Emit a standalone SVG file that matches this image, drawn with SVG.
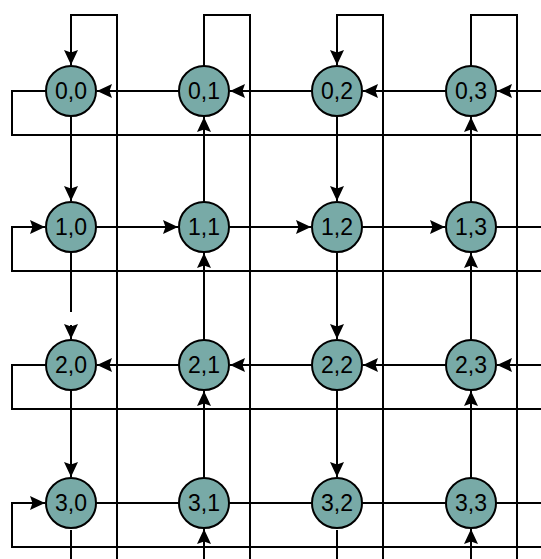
<svg xmlns="http://www.w3.org/2000/svg" width="541" height="559" viewBox="0 0 541 559">
  <style>
    .wire { fill: none; stroke: #000; stroke-width: 2; }
    .arr { marker-end: url(#head); }
    .node circle { fill: #78aaa7; stroke: #000; stroke-width: 2; }
    .node text { font-family: "Liberation Sans", Arial, sans-serif; font-size: 23px; fill: #000; text-anchor: middle; }
  </style>
  <defs>
    <marker id="head" markerUnits="userSpaceOnUse" markerWidth="15" markerHeight="14" refX="15" refY="7" orient="auto" viewBox="0 0 15 14">
      <path d="M0,0 L15,7 L0,14 L2.5,7 Z" fill="#000"/>
    </marker>
  </defs>
  <rect width="541" height="559" fill="#fff"/>

  <g id="connectors">
    <!-- wrap-around loops over the top of each column -->
    <path class="wire arr" d="M117,559 L117,15 L71,15 L71,65"/>
    <path class="wire" d="M204,66 L204,15 L250,15 L250,559"/>
    <path class="wire arr" d="M383,559 L383,15 L337,15 L337,65"/>
    <path class="wire" d="M471,66 L471,15 L517,15 L517,559"/>

    <!-- wrap-around loops on the left of each row -->
    <path class="wire" d="M46,91 L12,91 L12,135 L541,135"/>
    <path class="wire arr" d="M541,271 L12,271 L12,227 L45,227"/>
    <path class="wire" d="M46,365 L12,365 L12,409 L541,409"/>
    <path class="wire arr" d="M541,547 L12,547 L12,503 L45,503"/>

    <!-- row 0: right to left -->
    <path class="wire arr" d="M541,91 L497,91"/>
    <path class="wire arr" d="M446,91 L363,91"/>
    <path class="wire arr" d="M312,91 L230,91"/>
    <path class="wire arr" d="M179,91 L97,91"/>

    <!-- row 1: left to right -->
    <path class="wire arr" d="M96,227 L178,227"/>
    <path class="wire arr" d="M229,227 L311,227"/>
    <path class="wire arr" d="M362,227 L445,227"/>
    <path class="wire" d="M496,227 L541,227"/>

    <!-- row 2: right to left -->
    <path class="wire arr" d="M541,365 L497,365"/>
    <path class="wire arr" d="M446,365 L363,365"/>
    <path class="wire arr" d="M312,365 L230,365"/>
    <path class="wire arr" d="M179,365 L97,365"/>

    <!-- row 3: plain links -->
    <path class="wire" d="M96,503 L179,503"/>
    <path class="wire" d="M229,503 L312,503"/>
    <path class="wire" d="M362,503 L446,503"/>
    <path class="wire" d="M496,503 L541,503"/>

    <!-- column 0: downward -->
    <path class="wire arr" d="M71,116 L71,201"/>
    <path class="wire" d="M71,252 L71,312"/>
    <path class="wire arr" d="M71,325 L71,339"/>
    <path class="wire arr" d="M71,390 L71,477"/>
    <path class="wire" d="M71,530 L71,559"/>

    <!-- column 1: upward -->
    <path class="wire arr" d="M204,202 L204,117"/>
    <path class="wire arr" d="M204,340 L204,253"/>
    <path class="wire arr" d="M204,478 L204,391"/>
    <path class="wire arr" d="M204,559 L204,529"/>

    <!-- column 2: downward -->
    <path class="wire arr" d="M337,116 L337,201"/>
    <path class="wire arr" d="M337,252 L337,339"/>
    <path class="wire arr" d="M337,390 L337,477"/>
    <path class="wire" d="M337,530 L337,559"/>

    <!-- column 3: upward -->
    <path class="wire arr" d="M471,202 L471,117"/>
    <path class="wire arr" d="M471,340 L471,253"/>
    <path class="wire arr" d="M471,478 L471,391"/>
    <path class="wire arr" d="M471,559 L471,529"/>
  </g>

  <g id="n00" class="node"><circle cx="71" cy="91" r="25"/><text x="71" y="99">0,0</text></g>
  <g id="n01" class="node"><circle cx="204" cy="91" r="25"/><text x="204" y="99">0,1</text></g>
  <g id="n02" class="node"><circle cx="337" cy="91" r="25"/><text x="337" y="99">0,2</text></g>
  <g id="n03" class="node"><circle cx="471" cy="91" r="25"/><text x="471" y="99">0,3</text></g>

  <g id="n10" class="node"><circle cx="71" cy="227" r="25"/><text x="71" y="235">1,0</text></g>
  <g id="n11" class="node"><circle cx="204" cy="227" r="25"/><text x="204" y="235">1,1</text></g>
  <g id="n12" class="node"><circle cx="337" cy="227" r="25"/><text x="337" y="235">1,2</text></g>
  <g id="n13" class="node"><circle cx="471" cy="227" r="25"/><text x="471" y="235">1,3</text></g>

  <g id="n20" class="node"><circle cx="71" cy="365" r="25"/><text x="71" y="373">2,0</text></g>
  <g id="n21" class="node"><circle cx="204" cy="365" r="25"/><text x="204" y="373">2,1</text></g>
  <g id="n22" class="node"><circle cx="337" cy="365" r="25"/><text x="337" y="373">2,2</text></g>
  <g id="n23" class="node"><circle cx="471" cy="365" r="25"/><text x="471" y="373">2,3</text></g>

  <g id="n30" class="node"><circle cx="71" cy="503" r="25"/><text x="71" y="511">3,0</text></g>
  <g id="n31" class="node"><circle cx="204" cy="503" r="25"/><text x="204" y="511">3,1</text></g>
  <g id="n32" class="node"><circle cx="337" cy="503" r="25"/><text x="337" y="511">3,2</text></g>
  <g id="n33" class="node"><circle cx="471" cy="503" r="25"/><text x="471" y="511">3,3</text></g>
</svg>
